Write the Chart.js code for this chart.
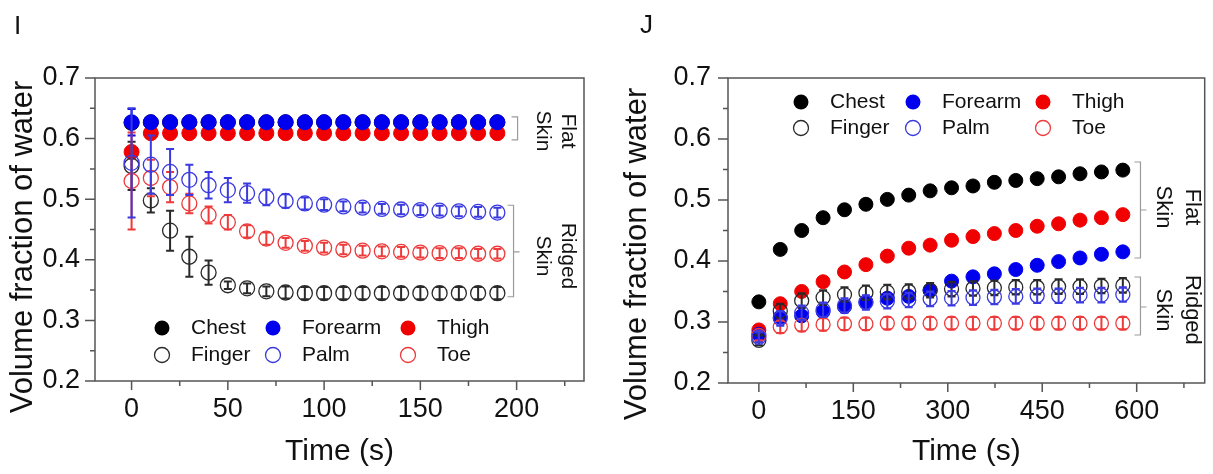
<!DOCTYPE html>
<html>
<head>
<meta charset="utf-8">
<script src="https://cdn.jsdelivr.net/npm/chart.js@4.4.1/dist/chart.umd.min.js"></script>
<style>
  html, body { margin: 0; padding: 0; background: #fff; }
  body { width: 1213px; height: 474px; position: relative; overflow: hidden; font-family: "Liberation Sans", Arial, sans-serif; }
  canvas { position: absolute; top: 0; }
  .tag { position: absolute; font-size: 26px; line-height: 26px; color: #111; }
</style>
</head>
<body>
<canvas id="chartI" width="600" height="474" style="left:0"></canvas>
<canvas id="chartJ" width="613" height="474" style="left:600px"></canvas>
<div class="tag" style="left:14px;top:12px">I</div>
<div class="tag" style="left:640px;top:11px">J</div>
<script>
// ---- panel I : drying, 0-190 s ----
const timeI = [0, 10, 20, 30, 40, 50, 60, 70, 80, 90, 100, 110, 120, 130, 140, 150, 160, 170, 180, 190];
const chestI   = [0.626, 0.627, 0.627, 0.627, 0.627, 0.627, 0.627, 0.627, 0.627, 0.627, 0.627, 0.627, 0.627, 0.627, 0.627, 0.627, 0.627, 0.627, 0.627, 0.627];
const forearmI = [0.627, 0.627, 0.627, 0.627, 0.627, 0.627, 0.627, 0.627, 0.627, 0.627, 0.627, 0.627, 0.627, 0.627, 0.627, 0.627, 0.627, 0.627, 0.627, 0.627];
const thighI   = [0.578, 0.609, 0.609, 0.609, 0.609, 0.609, 0.609, 0.609, 0.609, 0.609, 0.609, 0.609, 0.609, 0.609, 0.609, 0.609, 0.609, 0.609, 0.609, 0.609];
const fingerI  = [0.555, 0.498, 0.448, 0.405, 0.379, 0.358, 0.353, 0.348, 0.346, 0.345, 0.345, 0.345, 0.345, 0.345, 0.345, 0.345, 0.345, 0.345, 0.345, 0.345];
const palmI    = [0.560, 0.557, 0.545, 0.532, 0.523, 0.515, 0.510, 0.503, 0.497, 0.493, 0.491, 0.488, 0.486, 0.484, 0.483, 0.482, 0.481, 0.480, 0.479, 0.478];
const toeI     = [0.530, 0.535, 0.520, 0.493, 0.474, 0.462, 0.447, 0.435, 0.428, 0.423, 0.420, 0.417, 0.415, 0.414, 0.413, 0.412, 0.411, 0.411, 0.410, 0.410];
const forearmErrI = [0.022, 0, 0, 0, 0, 0, 0, 0, 0, 0, 0, 0, 0, 0, 0, 0, 0, 0, 0, 0];
const thighErrI   = [0.004, 0, 0, 0, 0, 0, 0, 0, 0, 0, 0, 0, 0, 0, 0, 0, 0, 0, 0, 0];
const fingerErrI  = [0.040, 0.020, 0.033, 0.033, 0.020, 0.006, 0.008, 0.008, 0.010, 0.010, 0.010, 0.010, 0.010, 0.010, 0.010, 0.010, 0.010, 0.010, 0.010, 0.010];
const palmErrI    = [0.090, 0.048, 0.038, 0.025, 0.022, 0.020, 0.016, 0.013, 0.011, 0.010, 0.009, 0.008, 0.008, 0.008, 0.008, 0.008, 0.008, 0.008, 0.008, 0.008];
const toeErrI     = [0.080, 0.030, 0.025, 0.016, 0.014, 0.012, 0.010, 0.010, 0.008, 0.008, 0.008, 0.008, 0.008, 0.008, 0.008, 0.008, 0.008, 0.008, 0.008, 0.008];
const xTicksI = [0, 50, 100, 150, 200];
const xMinorI = [25, 75, 125, 175, 225];

// ---- panel J : hydration, 0-578 s ----
const timeJ = [0, 34, 68, 102, 136, 170, 204, 238, 272, 306, 340, 374, 408, 442, 476, 510, 544, 578];
const chestJ   = [0.333, 0.419, 0.450, 0.471, 0.484, 0.493, 0.501, 0.508, 0.515, 0.520, 0.523, 0.529, 0.532, 0.535, 0.538, 0.543, 0.546, 0.549];
const forearmJ = [0.280, 0.308, 0.310, 0.317, 0.325, 0.333, 0.339, 0.342, 0.352, 0.367, 0.374, 0.379, 0.386, 0.393, 0.399, 0.405, 0.411, 0.415];
const thighJ   = [0.287, 0.330, 0.350, 0.366, 0.382, 0.394, 0.408, 0.421, 0.426, 0.434, 0.440, 0.445, 0.450, 0.457, 0.461, 0.467, 0.471, 0.476];
const fingerJ  = [0.270, 0.318, 0.335, 0.340, 0.345, 0.348, 0.349, 0.350, 0.352, 0.354, 0.355, 0.356, 0.357, 0.357, 0.358, 0.358, 0.359, 0.360];
const palmJ    = [0.275, 0.306, 0.315, 0.320, 0.327, 0.332, 0.334, 0.336, 0.338, 0.339, 0.340, 0.341, 0.342, 0.343, 0.343, 0.344, 0.344, 0.345];
const toeJ     = [0.278, 0.292, 0.295, 0.296, 0.297, 0.297, 0.298, 0.298, 0.298, 0.298, 0.298, 0.298, 0.298, 0.298, 0.298, 0.298, 0.298, 0.298];
const fingerErrJ = [0.008, 0.012, 0.012, 0.012, 0.012, 0.012, 0.012, 0.012, 0.012, 0.012, 0.012, 0.012, 0.012, 0.012, 0.012, 0.012, 0.012, 0.012];
const palmErrJ   = [0.008, 0.012, 0.012, 0.012, 0.012, 0.012, 0.012, 0.012, 0.012, 0.012, 0.012, 0.012, 0.012, 0.012, 0.012, 0.012, 0.012, 0.012];
const toeErrJ    = [0.008, 0.010, 0.010, 0.010, 0.010, 0.010, 0.010, 0.010, 0.010, 0.010, 0.010, 0.010, 0.010, 0.010, 0.010, 0.010, 0.010, 0.010];
const xTicksJ = [0, 150, 300, 450, 600];
const xMinorJ = [75, 225, 375, 525, 675];

const yTicks = [0.2, 0.3, 0.4, 0.5, 0.6, 0.7];
const yMinor = [0.25, 0.35, 0.45, 0.55, 0.65];
const legendNames = ['Chest', 'Forearm', 'Thigh', 'Finger', 'Palm', 'Toe'];

const FONT = '"Liberation Sans", Arial, Helvetica, sans-serif';
const BLACK = '#000000', BLUE = '#0000ee', RED = '#f00000';
const OPEN_BLACK = '#2a2a2a', OPEN_BLUE = '#3a3ae0', OPEN_RED = '#ee3a3a';
const legendColors = [BLACK, BLUE, RED, OPEN_BLACK, OPEN_BLUE, OPEN_RED];

// extra drawing per panel (frame, minor ticks, brackets, legend)
const decor = {
  chartI: {
    xMinor: xMinorI,
    yTitle: { x: 23, y: 247 },
    brackets: [
      { x: 200.5, y1: 0.636, y2: 0.598, mid: null },
      { x: 198.4, y1: 0.490, y2: 0.339, mid: 0.413 }
    ],
    notes: [
      { x1: 226.6, x2: 213.5, y: 0.6125, lines: ['Flat', 'Skin'] },
      { x1: 226.6, x2: 213.5, y: 0.4063, lines: ['Ridged', 'Skin'] }
    ],
    noteSize: 21,
    legend: { cols: [162, 273, 408], rows: [328, 355] }
  },
  chartJ: {
    xMinor: xMinorJ,
    yTitle: { x: 37, y: 254 },
    brackets: [
      { x: 606, y1: 0.5623, y2: 0.4049, mid: 0.4836 },
      { x: 606, y1: 0.3738, y2: 0.2787, mid: 0.3246 }
    ],
    notes: [
      { x1: 687.6, x2: 642, y: 0.4885, lines: ['Flat', 'Skin'] },
      { x1: 687.6, x2: 642, y: 0.3197, lines: ['Ridged', 'Skin'] }
    ],
    noteSize: 22,
    legend: { cols: [201, 313, 443], rows: [102, 128] }
  }
};

const decorPlugin = {
  id: 'decor',
  afterDatasetDraw(chart, args) {
    const ds = chart.data.datasets[args.index];
    if (!ds.err) return;
    const ctx = chart.ctx, xs = chart.scales.x, ys = chart.scales.y;
    ctx.save();
    ctx.strokeStyle = ds.pointBorderColor;
    ctx.lineWidth = 2;
    ds.data.forEach((p, i) => {
      const e = ds.err[i];
      if (!e) return;
      const x = xs.getPixelForValue(p.x);
      const yLo = ys.getPixelForValue(p.y - e), yHi = ys.getPixelForValue(p.y + e);
      ctx.beginPath();
      ctx.moveTo(x, yLo); ctx.lineTo(x, yHi);
      ctx.moveTo(x - 4, yLo); ctx.lineTo(x + 4, yLo);
      ctx.moveTo(x - 4, yHi); ctx.lineTo(x + 4, yHi);
      ctx.stroke();
    });
    ctx.restore();
  },
  afterDraw(chart) {
    const d = decor[chart.canvas.id];
    const ctx = chart.ctx, a = chart.chartArea, xs = chart.scales.x, ys = chart.scales.y;
    ctx.save();
    // frame + outward ticks
    ctx.strokeStyle = '#555';
    ctx.lineWidth = 1.5;
    ctx.strokeRect(a.left, a.top, a.right - a.left, a.bottom - a.top);
    ctx.beginPath();
    xs.ticks.forEach(t => { const x = xs.getPixelForValue(t.value); ctx.moveTo(x, a.bottom); ctx.lineTo(x, a.bottom + 9); });
    d.xMinor.forEach(v => { const x = xs.getPixelForValue(v); ctx.moveTo(x, a.bottom); ctx.lineTo(x, a.bottom + 5); });
    ys.ticks.forEach(t => { const y = ys.getPixelForValue(t.value); ctx.moveTo(a.left, y); ctx.lineTo(a.left - 10, y); });
    yMinor.forEach(v => { const y = ys.getPixelForValue(v); ctx.moveTo(a.left, y); ctx.lineTo(a.left - 5, y); });
    ctx.stroke();

    // y title
    ctx.fillStyle = '#111';
    ctx.font = '31px ' + FONT;
    ctx.textAlign = 'center';
    ctx.textBaseline = 'middle';
    ctx.save();
    ctx.translate(d.yTitle.x, d.yTitle.y);
    ctx.rotate(-Math.PI / 2);
    ctx.fillText('Volume fraction of water', 0, 0);
    ctx.restore();

    // brackets
    ctx.strokeStyle = '#9a9a9a';
    ctx.lineWidth = 1.2;
    d.brackets.forEach(b => {
      const x = xs.getPixelForValue(b.x), y1 = ys.getPixelForValue(b.y1), y2 = ys.getPixelForValue(b.y2);
      ctx.beginPath();
      ctx.moveTo(x - 6, y1); ctx.lineTo(x, y1); ctx.lineTo(x, y2); ctx.lineTo(x - 6, y2);
      if (b.mid !== null) { const ym = ys.getPixelForValue(b.mid); ctx.moveTo(x, ym); ctx.lineTo(x + 6, ym); }
      ctx.stroke();
    });

    // rotated notes
    ctx.font = d.noteSize + 'px ' + FONT;
    d.notes.forEach(n => {
      const y = ys.getPixelForValue(n.y);
      [n.x1, n.x2].forEach((xv, k) => {
        ctx.save();
        ctx.translate(xs.getPixelForValue(xv), y);
        ctx.rotate(Math.PI / 2);
        ctx.fillText(n.lines[k], 0, 0);
        ctx.restore();
      });
    });

    // legend
    ctx.font = '21px ' + FONT;
    ctx.textAlign = 'left';
    legendNames.forEach((name, i) => {
      const cx = d.legend.cols[i % 3], cy = d.legend.rows[Math.floor(i / 3)];
      ctx.beginPath();
      ctx.arc(cx, cy, 7.5, 0, Math.PI * 2);
      if (i < 3) { ctx.fillStyle = legendColors[i]; ctx.fill(); }
      else { ctx.strokeStyle = legendColors[i]; ctx.lineWidth = 1.3; ctx.stroke(); }
      ctx.fillStyle = '#111';
      ctx.fillText(name, cx + 29, cy);
    });
    ctx.restore();
  }
};

function series(xs, ys, errs, color, filled, radius) {
  return {
    data: xs.map((x, i) => ({ x: x, y: ys[i] })),
    err: errs,
    pointRadius: radius,
    pointHoverRadius: radius,
    pointBackgroundColor: filled ? color : 'rgba(0,0,0,0)',
    pointBorderColor: color,
    pointBorderWidth: filled ? 1 : 1.3,
    showLine: false
  };
}

function makeChart(id, datasets, xMin, xMax, xTicks, yAxisWidth, xAxisHeight, rightPad, yPad) {
  return new Chart(document.getElementById(id), {
    type: 'scatter',
    data: { datasets: datasets },
    plugins: [decorPlugin],
    options: {
      responsive: false,
      animation: false,
      events: [],
      layout: { padding: { top: 78, right: rightPad, bottom: 0, left: 0 } },
      plugins: { legend: { display: false }, tooltip: { enabled: false } },
      scales: {
        x: {
          type: 'linear', min: xMin, max: xMax,
          afterBuildTicks: s => { s.ticks = xTicks.map(v => ({ value: v })); },
          afterFit: s => { s.height = xAxisHeight; },
          grid: { display: false, drawTicks: false },
          border: { display: false },
          ticks: { padding: 12, color: '#111', font: { family: FONT, size: 27 }, autoSkip: false, maxRotation: 0, callback: v => String(v) },
          title: { display: true, text: 'Time (s)', color: '#111', font: { family: FONT, size: 30 }, padding: { top: 0, bottom: 4 } }
        },
        y: {
          type: 'linear', min: 0.2, max: 0.7,
          afterBuildTicks: s => { s.ticks = yTicks.map(v => ({ value: v })); },
          afterFit: s => { s.width = yAxisWidth; },
          grid: { display: false, drawTicks: false },
          border: { display: false },
          ticks: { padding: yPad, color: '#111', font: { family: FONT, size: 27 }, autoSkip: false, callback: v => v.toFixed(1) }
        }
      }
    }
  });
}

makeChart('chartI', [
  series(timeI, palmI, palmErrI, OPEN_BLUE, false, 7.5),
  series(timeI, toeI, toeErrI, OPEN_RED, false, 7.5),
  series(timeI, fingerI, fingerErrI, OPEN_BLACK, false, 7.5),
  series(timeI, forearmI, forearmErrI, BLUE, true, 7.5),
  series(timeI, thighI, thighErrI, RED, true, 7.5),
  series(timeI, chestI, null, BLACK, true, 7.5)
], -19, 235, xTicksI, 95, 93, 16, 15);

makeChart('chartJ', [
  series(timeJ, palmJ, palmErrJ, OPEN_BLUE, false, 7),
  series(timeJ, toeJ, toeErrJ, OPEN_RED, false, 7),
  series(timeJ, fingerJ, fingerErrJ, OPEN_BLACK, false, 7),
  series(timeJ, forearmJ, null, BLUE, true, 7),
  series(timeJ, thighJ, null, RED, true, 7),
  series(timeJ, chestJ, null, BLACK, true, 7)
], -49, 708, xTicksJ, 128, 91, 3, 17);
</script>
</body>
</html>
